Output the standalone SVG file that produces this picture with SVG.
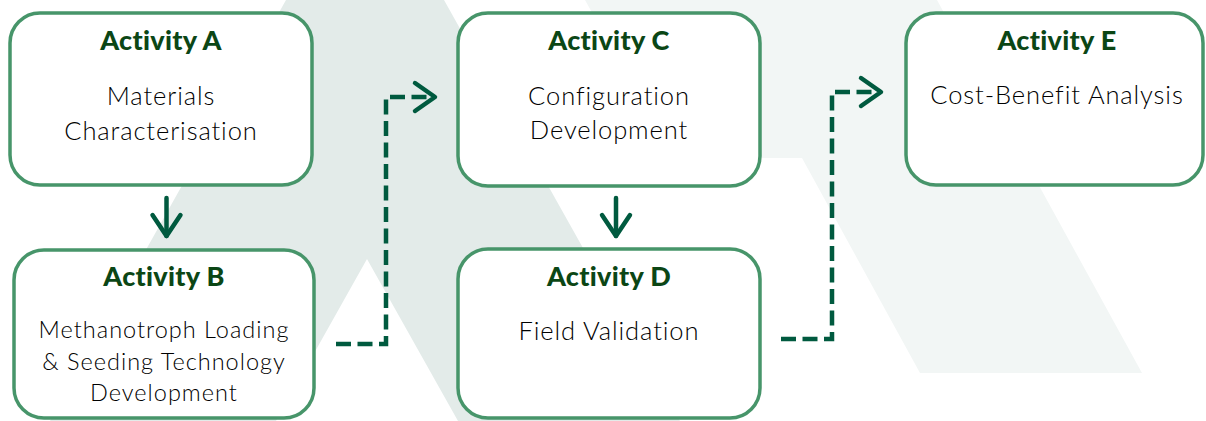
<svg xmlns="http://www.w3.org/2000/svg" width="1206" height="421" viewBox="0 0 1206 421">
  <defs>
    <style>
      .box { fill: #ffffff; stroke: #47956a; stroke-width: 3.5; }
      .title { font-family: Lato, "Liberation Sans", sans-serif; font-weight: 900; font-size: 27px; letter-spacing: 0.3px; fill: #0b4615; text-anchor: middle; }
      .body { font-family: Lato, "Liberation Sans", sans-serif; font-weight: 300; font-size: 25.5px; letter-spacing: 0.9px; fill: #000000; text-anchor: middle; }
      .bodys { font-family: Lato, "Liberation Sans", sans-serif; font-weight: 300; font-size: 23.5px; letter-spacing: 1px; fill: #000000; text-anchor: middle; }
      .solid { fill: none; stroke: #005a3f; stroke-width: 4.5; stroke-linecap: round; stroke-linejoin: round; }
      .dash { fill: none; stroke: #005a3f; stroke-width: 4.5; stroke-dasharray: 15 6.5; }
      .head { fill: none; stroke: #005a3f; stroke-width: 4.5; stroke-linecap: round; stroke-linejoin: round; }
    </style>
  </defs>
  <rect width="1206" height="421" fill="#ffffff"/>
  <g id="watermark">
    <path d="M286,0 L444,0 L680,421 L50,421 Z M367,259 L276,421 L458,421 Z" fill="#e3ebe9" fill-rule="evenodd"/>
    <polygon points="585,0 937,0 1142,373 920,373 802,158 673,158" fill="#f2f6f5"/>
  </g>
  <g id="connectors">
    <path class="solid" d="M166.5,198 V236"/>
    <path class="head" d="M152.5,215 L166.5,236 L180.5,215"/>
    <path class="solid" d="M616,198 V236"/>
    <path class="head" d="M602,215 L616,236 L630,215"/>
    <path class="dash" d="M336,344 H386 V97 H432"/>
    <path class="head" d="M415,83 L435,97 L415,111"/>
    <path class="dash" d="M781,339 H832 V92 H878"/>
    <path class="head" d="M861,78 L881,92 L861,106"/>
  </g>
  <g id="nodeA">
    <rect class="box" x="10" y="13" width="302" height="172" rx="30"/>
    <text class="title" x="161" y="50">Activity A</text>
    <text class="body" x="161" y="105">Materials</text>
    <text class="body" x="161" y="140">Characterisation</text>
  </g>
  <g id="nodeB">
    <rect class="box" x="14" y="250" width="300" height="168" rx="30"/>
    <text class="title" x="164" y="286">Activity B</text>
    <text class="bodys" x="164" y="338">Methanotroph Loading</text>
    <text class="bodys" x="164" y="370">&amp; Seeding Technology</text>
    <text class="bodys" x="164" y="401">Development</text>
  </g>
  <g id="nodeC">
    <rect class="box" x="458" y="13" width="302" height="173" rx="30"/>
    <text class="title" x="609" y="50">Activity C</text>
    <text class="body" x="609" y="105">Configuration</text>
    <text class="body" x="609" y="139">Development</text>
  </g>
  <g id="nodeD">
    <rect class="box" x="458" y="249" width="302" height="169" rx="30"/>
    <text class="title" x="609" y="286">Activity D</text>
    <text class="body" x="609" y="340">Field Validation</text>
  </g>
  <g id="nodeE">
    <rect class="box" x="906" y="13" width="297" height="172" rx="30"/>
    <text class="title" x="1057" y="50">Activity E</text>
    <text class="body" x="1057" y="104">Cost-Benefit Analysis</text>
  </g>
</svg>
